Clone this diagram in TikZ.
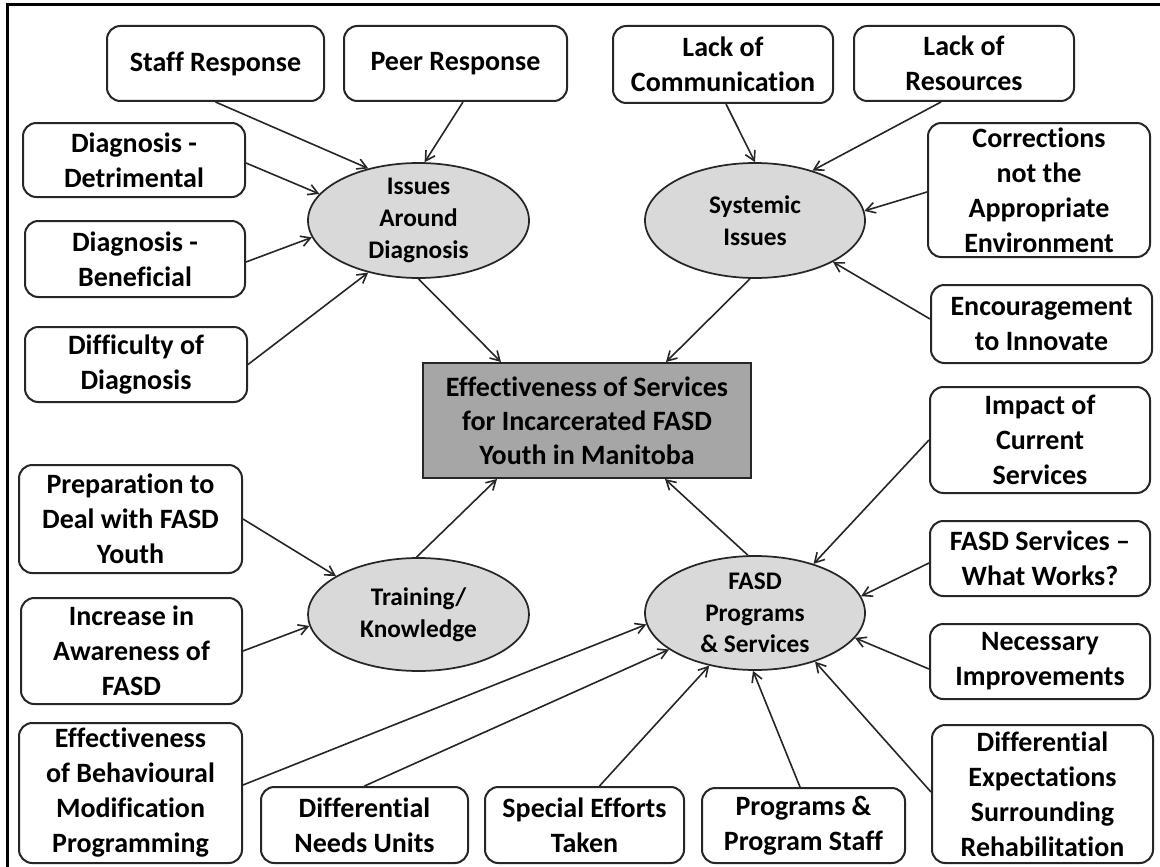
\documentclass[tikz,border=0pt]{standalone}
\usepackage{fontspec}
\setmainfont{Carlito}[RawFeature={-liga;-clig;-calt}]
\usetikzlibrary{shapes.geometric,arrows.meta}
\newcommand\pxs{*0.75pt}
\begin{document}
\begin{tikzpicture}[x=0.75pt,y=-0.75pt,
  box/.style={draw=black!85, line width=1.5pt, rounded corners=10pt, fill=white, align=center, inner sep=0pt, font=\fontsize{21}{26.25}\selectfont\bfseries},
  ell/.style={ellipse, draw=black!85, line width=1.3pt, fill=black!15, inner sep=0pt},
  elltxt/.style={align=center, inner sep=0pt, font=\fontsize{19}{23.8}\selectfont\bfseries},
  cbox/.style={draw=black!85, line width=1.5pt, fill=black!35, align=center, inner sep=0pt, font=\fontsize{21}{25.5}\selectfont\bfseries},
  arr/.style={-{Straight Barb[length=7pt,width=8pt,line width=1.2pt]}, line width=1.2pt, draw=black!85},
]
\useasboundingbox (0,0) rectangle (1160,867);
\draw[line width=2pt] (7.5,867) -- (7.5,4.5) -- (1160,4.5);

% top-left group
\node[box, minimum width=217\pxs, minimum height=75\pxs] (staff) at (215.5,63.5) {Staff Response};
\node[box, minimum width=223\pxs, minimum height=75\pxs] (peer) at (455.5,63.5) {Peer Response};
\node[box, minimum width=222\pxs, minimum height=74\pxs] (det) at (134,160) {Diagnosis -\\Detrimental};
\node[box, minimum width=220\pxs, minimum height=76\pxs] (ben) at (135,259) {Diagnosis -\\Beneficial};
\node[box, minimum width=222\pxs, minimum height=75\pxs] (dif) at (136,364.5) {Difficulty of\\Diagnosis};
\node[ell, minimum width=221\pxs, minimum height=115\pxs, label={[elltxt]center:Issues\\Around\\Diagnosis}] (iss) at (418.5,220.5) {};

% top-right group
\node[box, minimum width=220\pxs, minimum height=77\pxs] (lc) at (723,64.5) {Lack of\\Communication};
\node[box, minimum width=220\pxs, minimum height=75\pxs] (lr) at (964,63.5) {Lack of\\Resources};
\node[box, minimum width=222\pxs, minimum height=134\pxs] (cor) at (1039,190) {Corrections\\not the\\Appropriate\\Environment};
\node[box, minimum width=221\pxs, minimum height=78\pxs] (enc) at (1041.5,324) {Encouragement\\to Innovate};
\node[ell, minimum width=220\pxs, minimum height=115\pxs, label={[elltxt]center:Systemic\\Issues}] (sys) at (755,220.5) {};

% centre
\node[cbox, minimum width=328\pxs, minimum height=115\pxs] (cen) at (587,420.5) {Effectiveness of Services\\for Incarcerated FASD\\Youth in Manitoba};

% bottom-right group
\node[box, minimum width=220\pxs, minimum height=106\pxs] (imp) at (1040,440) {Impact of\\Current\\Services};
\node[box, minimum width=220\pxs, minimum height=75\pxs] (fsw) at (1040,558.5) {FASD Services –\\What Works?};
\node[box, minimum width=220\pxs, minimum height=75\pxs] (nec) at (1040,661.5) {Necessary\\Improvements};
\node[box, minimum width=221\pxs, minimum height=138\pxs] (dex) at (1042.5,794) {Differential\\Expectations\\Surrounding\\Rehabilitation};
\node[box, minimum width=203\pxs, minimum height=75\pxs] (pps) at (803.5,825.5) {Programs \&\\Program Staff};
\node[box, minimum width=199\pxs, minimum height=76\pxs] (spe) at (584.5,825) {Special Efforts\\Taken};
\node[box, minimum width=207\pxs, minimum height=76\pxs] (dnu) at (364.5,825) {Differential\\Needs Units};
\node[box, minimum width=223\pxs, minimum height=140\pxs] (eff) at (130.5,793) {Effectiveness\\of Behavioural\\Modification\\Programming};
\node[ell, minimum width=220\pxs, minimum height=114\pxs, label={[elltxt]center:FASD\\Programs\\\& Services}] (fps) at (755,613) {};

% bottom-left group
\node[box, minimum width=223\pxs, minimum height=108\pxs] (prep) at (130.5,519) {Preparation to\\Deal with FASD\\Youth};
\node[box, minimum width=221\pxs, minimum height=106\pxs] (inc) at (131.5,651) {Increase in\\Awareness of\\FASD};
\node[ell, minimum width=221\pxs, minimum height=113\pxs, label={[elltxt]center:Training/\\Knowledge}] (trn) at (418.5,614.5) {};

% connectors: issues around diagnosis
\draw[arr] (staff.south) -- (iss.134);
\draw[arr] ([shift={(7.5,0)}]peer.south) -- (iss.84);
\draw[arr] ([shift={(0,3)}]det.east) -- (iss.165);
\draw[arr] ([shift={(0,3)}]ben.east) -- (iss.189);
\draw[arr] (dif.east) -- (iss.226);
\draw[arr] (iss.south) -- ([shift={(79,0)}]cen.north west);

% systemic issues
\draw[arr] ([shift={(3,0)}]lc.south) -- (sys.90);
\draw[arr] ([shift={(-23,0)}]lr.south) -- (sys.41);
\draw[arr] ([shift={(0,2)}]cor.west) -- (sys.5);
\draw[arr] ([shift={(0,-5)}]enc.west) -- (sys.-28);
\draw[arr] (sys.265) -- ([shift={(244,0)}]cen.north west);

% FASD programs & services
\draw[arr] (fps.97) -- ([shift={(243,0)}]cen.south west);
\draw[arr] (imp.west) -- (fps.40);
\draw[arr] ([shift={(0,4.5)}]fsw.west) -- (fps.9);
\draw[arr] ([shift={(0,7.5)}]nec.west) -- (fps.-14);
\draw[arr] ([shift={(0,-2)}]dex.west) -- (fps.-39);
\draw[arr] ([shift={(-3.5,0)}]pps.north) -- (fps.268);
\draw[arr] ([shift={(15,0)}]spe.north) -- (fps.229);
\draw[arr] (dnu.north) -- (fps.203);
\draw[arr] ([shift={(0,-8)}]eff.east) -- (fps.186);

% training / knowledge
\draw[arr] (prep.east) -- (trn.155);
\draw[arr] (inc.east) -- (trn.186);
\draw[arr] (trn.92) -- ([shift={(75,0)}]cen.south west);
\end{tikzpicture}
\end{document}
